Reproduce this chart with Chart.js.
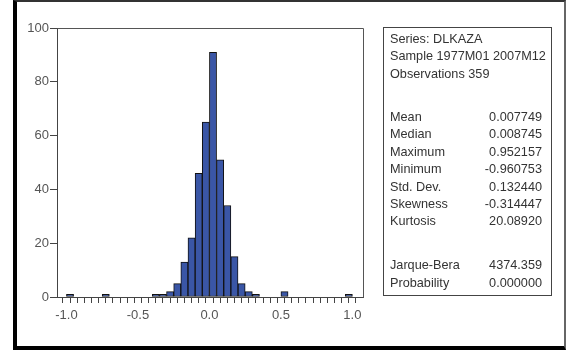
<!DOCTYPE html>
<html>
<head>
<meta charset="utf-8">
<script src="https://cdn.jsdelivr.net/npm/chart.js@4.4.1/dist/chart.umd.min.js"></script>
<style>
    body { margin: 0; background: #fff; font-family: "Liberation Sans", Arial, sans-serif; }
    #wrap { position: relative; width: 566px; height: 351px; overflow: hidden; }
    #frame {
        position: absolute; left: 13px; top: 0; width: 547px; height: 344px;
        border-left: 4px solid #000; border-top: 2px solid #333;
        border-right: 2px solid #666; border-bottom: 4px solid #000;
    }
    #chart-histogram { position: absolute; left: 0; top: 0; }
    #stats {
        position: absolute; left: 383px; top: 27px; width: 167px; height: 267px;
        border: 1px solid #444; color: #333; font-size: 12.7px;
    }
    #stats .row { position: absolute; left: 6px; right: 9px; height: 16px; line-height: 16px; white-space: nowrap; }
    #stats .val { position: absolute; right: 0; top: 0; }
</style>
</head>
<body>
<div id="wrap">
    <div id="frame"></div>
    <canvas id="chart-histogram" width="566" height="351"></canvas>
    <div id="stats"></div>
</div>
<script>
// histogram bins (lower edge of each 0.05 wide bin) and counts
const binStarts = [-1.00, -0.75, -0.40, -0.35, -0.30, -0.25, -0.20, -0.15, -0.10, -0.05,
    0.00, 0.05, 0.10, 0.15, 0.20, 0.25, 0.30, 0.50, 0.95];
const binCounts = [1, 1, 1, 1, 2, 5, 13, 22, 46, 65, 91, 51, 34, 15, 5, 2, 1, 2, 1];
const binWidth = 0.05;

const xTickLabels = ['-1.0', '-0.5', '0.0', '0.5', '1.0'];
const yTickLabels = ['0', '20', '40', '60', '80', '100'];

const headerLines = ['Series: DLKAZA', 'Sample 1977M01 2007M12', 'Observations 359'];
const statNames = ['Mean', 'Median', 'Maximum', 'Minimum', 'Std. Dev.', 'Skewness', 'Kurtosis'];
const statValues = ['0.007749', '0.008745', '0.952157', '-0.960753', '0.132440', '-0.314447', '20.08920'];
const testNames = ['Jarque-Bera', 'Probability'];
const testValues = ['4374.359', '0.000000'];

// row centre offsets inside the stats box (px from box top)
function addRows(box, names, values, firstCentre, step) {
    names.forEach(function (name, i) {
        var row = document.createElement('div');
        row.className = 'row';
        row.style.top = (firstCentre + i * step - 8) + 'px';
        row.textContent = name;
        if (values) {
            var v = document.createElement('span');
            v.className = 'val';
            v.textContent = values[i];
            row.appendChild(v);
        }
        box.appendChild(row);
    });
}

function fillStats() {
    var box = document.getElementById('stats');
    addRows(box, headerLines, null, 11, 17.3);
    addRows(box, statNames, statValues, 89, 17.4);
    addRows(box, testNames, testValues, 237, 17.5);
}

const framePlugin = {
    id: 'plotFrame',
    afterDatasetsDraw(chart) {
        const a = chart.chartArea;
        const ctx = chart.ctx;
        ctx.save();
        ctx.strokeStyle = '#555';
        ctx.lineWidth = 1;
        ctx.beginPath();
        ctx.moveTo(Math.round(a.left) + 0.5, Math.round(a.top) + 0.5);
        ctx.lineTo(Math.round(a.right) + 0.5, Math.round(a.top) + 0.5);
        ctx.lineTo(Math.round(a.right) + 0.5, Math.round(a.bottom) + 0.5);
        ctx.stroke();
        ctx.restore();
    }
};

function initChart_Histogram() {
    const points = binStarts.map((s, i) => ({ x: s + binWidth / 2, y: binCounts[i] }));
    const majorValues = xTickLabels.map(Number);

    new Chart(document.getElementById('chart-histogram'), {
        type: 'bar',
        data: {
            datasets: [{
                data: points,
                backgroundColor: '#3a56a6',
                borderColor: '#111',
                borderWidth: 1,
                borderSkipped: false,
                barPercentage: 1,
                categoryPercentage: 1
            }]
        },
        options: {
            responsive: false,
            animation: false,
            layout: {
                padding: { left: 0, top: 28, right: 203, bottom: 21 }
            },
            scales: {
                x: {
                    type: 'linear',
                    min: -1.04,
                    max: 1.048,
                    afterBuildTicks: function (scale) {
                        var ticks = [];
                        for (var k = -20; k <= 20; k++) {
                            ticks.push({ value: k * binWidth });
                        }
                        scale.ticks = ticks;
                    },
                    afterFit: function (scale) { scale.height = 33; },
                    ticks: {
                        autoSkip: false,
                        maxRotation: 0,
                        padding: 5,
                        color: '#555',
                        font: { family: 'Liberation Sans', size: 13 },
                        callback: function (value) {
                            var idx = majorValues.findIndex(v => Math.abs(v - value) < 1e-6);
                            return idx >= 0 ? xTickLabels[idx] : '';
                        }
                    },
                    grid: {
                        drawOnChartArea: false,
                        tickLength: 6,
                        tickColor: '#444'
                    },
                    border: { color: '#444' }
                },
                y: {
                    min: 0,
                    max: 100,
                    afterBuildTicks: function (scale) {
                        scale.ticks = yTickLabels.map(t => ({ value: Number(t) }));
                    },
                    afterFit: function (scale) { scale.width = 57; },
                    ticks: {
                        padding: 1,
                        color: '#555',
                        font: { family: 'Liberation Sans', size: 13 },
                        callback: function (value) { return String(value); }
                    },
                    grid: {
                        drawOnChartArea: false,
                        tickLength: 7,
                        tickColor: '#444'
                    },
                    border: { color: '#444' }
                }
            },
            plugins: {
                legend: { display: false },
                tooltip: { enabled: false }
            }
        },
        plugins: [framePlugin]
    });
}

fillStats();
initChart_Histogram();
</script>
</body>
</html>
